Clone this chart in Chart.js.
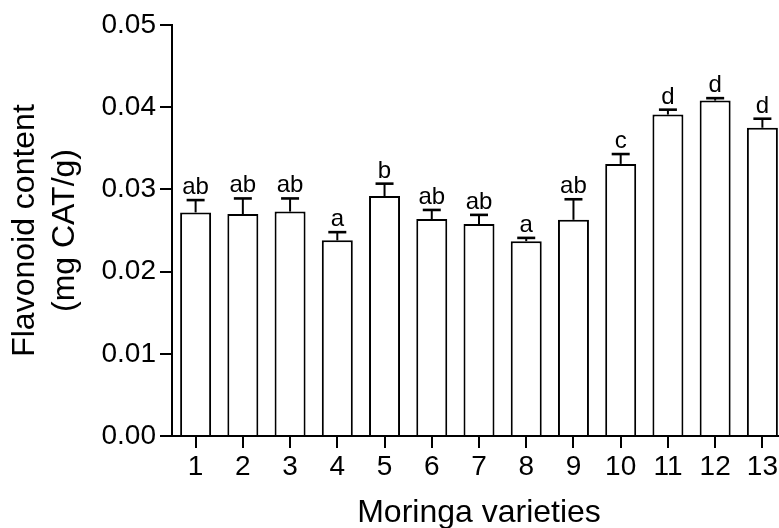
<!DOCTYPE html>
<html>
<head>
<meta charset="utf-8">
<script src="https://cdn.jsdelivr.net/npm/chart.js@4.4.1/dist/chart.umd.min.js"></script>
<style>
  html, body { margin: 0; padding: 0; background: #fff; overflow: hidden; }
  #wrap { width: 786px; height: 532px; }
</style>
</head>
<body>
<div id="wrap"><canvas id="chart"></canvas></div>
<script>
const varieties = ["1", "2", "3", "4", "5", "6", "7", "8", "9", "10", "11", "12", "13"];
const flavonoid = [0.0272, 0.0270, 0.0273, 0.0238, 0.0292, 0.0264, 0.0258, 0.0237, 0.0263, 0.0331, 0.0391, 0.0408, 0.0375];
const errors = [0.0015, 0.0019, 0.0016, 0.0010, 0.0015, 0.0011, 0.0011, 0.0004, 0.0025, 0.0012, 0.0006, 0.0003, 0.0011];
const letters = ["ab", "ab", "ab", "a", "b", "ab", "ab", "a", "ab", "c", "d", "d", "d"];

const fontFamily = "'Liberation Sans', Arial, sans-serif";
Chart.defaults.color = "#000";
Chart.defaults.font.family = fontFamily;

// error bars (upper only) and the letters on top of them
const errorBarPlugin = {
  id: "errorBars",
  afterDatasetsDraw(chart) {
    const { ctx } = chart;
    const yScale = chart.scales.y;
    const meta = chart.getDatasetMeta(0);
    ctx.save();
    ctx.strokeStyle = "#000";
    ctx.fillStyle = "#000";
    meta.data.forEach((bar, i) => {
      const x = bar.x;
      const yTop = yScale.getPixelForValue(flavonoid[i]);
      const yErr = yScale.getPixelForValue(flavonoid[i] + errors[i]);
      ctx.lineWidth = 2;
      ctx.beginPath();
      ctx.moveTo(x, yTop);
      ctx.lineTo(x, yErr);
      ctx.stroke();
      ctx.lineWidth = 2.6;
      ctx.beginPath();
      ctx.moveTo(x - 9, yErr);
      ctx.lineTo(x + 9, yErr);
      ctx.stroke();
      ctx.font = "24px " + fontFamily;
      ctx.textAlign = "center";
      ctx.textBaseline = "alphabetic";
      ctx.fillText(letters[i], x, yErr - 6);
    });
    ctx.restore();
  },
};

new Chart(document.getElementById("chart"), {
  type: "bar",
  data: {
    labels: varieties,
    datasets: [
      {
        data: flavonoid,
        backgroundColor: "#fff",
        borderColor: "#000",
        borderWidth: 2,
        barPercentage: 0.656,
        categoryPercentage: 1,
      },
    ],
  },
  options: {
    responsive: true,
    maintainAspectRatio: false,
    animation: false,
    layout: { padding: { top: 25, right: 0, bottom: 0, left: 0 } },
    plugins: {
      legend: { display: false },
      tooltip: { enabled: false },
    },
    scales: {
      x: {
        grid: {
          offset: false,
          drawOnChartArea: false,
          drawTicks: true,
          tickLength: 12,
          color: "#000",
          lineWidth: 2,
        },
        border: { display: true, color: "#000", width: 2 },
        ticks: { font: { size: 28 }, padding: 2, maxRotation: 0, autoSkip: false },
        title: {
          display: true,
          text: "Moringa varieties",
          font: { size: 32 },
          padding: { top: 0, bottom: 0 },
        },
        afterFit(scale) {
          scale.height = 96;
        },
      },
      y: {
        min: 0,
        max: 0.05,
        grid: {
          drawOnChartArea: false,
          drawTicks: true,
          tickLength: 12,
          color: "#000",
          lineWidth: 2,
        },
        border: { display: true, color: "#000", width: 2 },
        ticks: {
          stepSize: 0.01,
          padding: 4,
          font: { size: 28 },
          callback: (value) => value.toFixed(2),
        },
        title: {
          display: true,
          text: ["Flavonoid content", "(mg CAT/g)"],
          font: { size: 32, lineHeight: 1.25 },
          padding: { top: 5.6, bottom: 0 },
        },
        afterFit(scale) {
          scale.width = 172;
        },
      },
    },
  },
  plugins: [errorBarPlugin],
});
</script>
</body>
</html>
